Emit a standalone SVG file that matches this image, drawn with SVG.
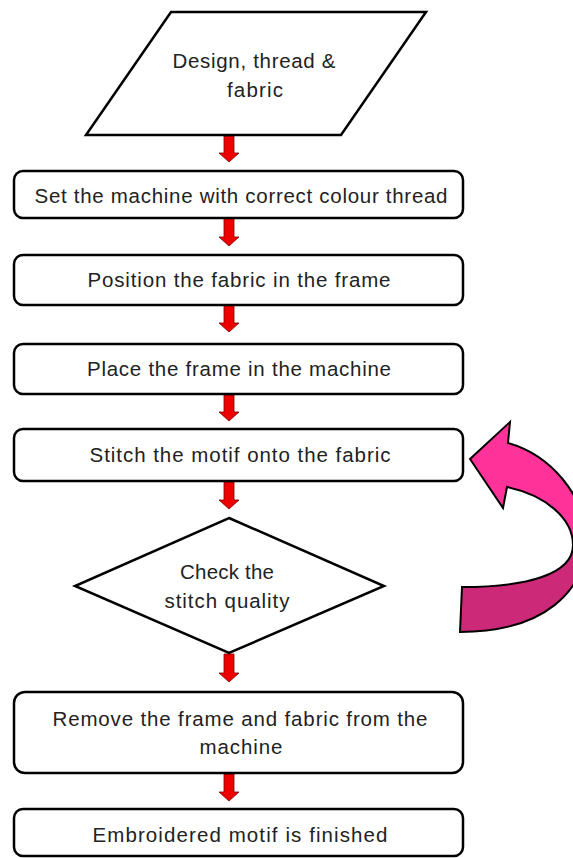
<svg xmlns="http://www.w3.org/2000/svg" width="573" height="858" viewBox="0 0 573 858">
<defs>
<style>
.n{fill:#fff;stroke:#000;stroke-width:2.5}
.t{font-family:"Liberation Sans",Arial,sans-serif;font-size:20.5px;fill:#222;text-anchor:middle}
.a{fill:#ee0000;stroke:#7a0000;stroke-width:0.8}
</style>
<linearGradient id="pk" x1="0" y1="400" x2="0" y2="640" gradientUnits="userSpaceOnUse">
<stop offset="0" stop-color="#ff3399"/>
<stop offset="0.595" stop-color="#ff3399"/>
<stop offset="0.595" stop-color="#cc2a78"/>
<stop offset="1" stop-color="#cc2a78"/>
</linearGradient>
</defs>
<rect width="573" height="858" fill="#fff"/>
<g id="connectors">
<path class="a" d="M224,136 H234 V153 H239 L229,162 L219,153 H224 Z"/>
<path class="a" d="M224,218 H234 V237 H239 L229,246 L219,237 H224 Z"/>
<path class="a" d="M224,305 H234 V323 H239 L229,332 L219,323 H224 Z"/>
<path class="a" d="M224,395 H234 V412 H239 L229,421 L219,412 H224 Z"/>
<path class="a" d="M224,482 H234 V500 H239 L229,509 L219,500 H224 Z"/>
<path class="a" d="M224,654 H234 V673 H239 L229,682 L219,673 H224 Z"/>
<path class="a" d="M224,774 H234 V792 H239 L229,801 L219,792 H224 Z"/>
<path id="loop" d="M470,459 L510,422 L508,443 C550,455 586,495 586,541 C586,590 545,632 460,632 L462,587 C525,587 573,575 573,545 C573,518 545,495 507,487 L503,508 Z" fill="url(#pk)" stroke="#000" stroke-width="2"/>
</g>
<g id="input">
<polygon class="n" points="171,12 426,12 341,135 86,135"/>
<text class="t" x="254" y="68" textLength="163" lengthAdjust="spacing">Design, thread &amp;</text>
<text class="t" x="255" y="97" textLength="56" lengthAdjust="spacing">fabric</text>
</g>
<g id="step1">
<rect class="n" x="14" y="171" width="449" height="47" rx="9"/>
<text class="t" x="241" y="203" textLength="413" lengthAdjust="spacing">Set the machine with correct colour thread</text>
</g>
<g id="step2">
<rect class="n" x="14" y="255" width="449" height="50" rx="9"/>
<text class="t" x="239" y="287" textLength="303" lengthAdjust="spacing">Position the fabric in the frame</text>
</g>
<g id="step3">
<rect class="n" x="14" y="344" width="449" height="50" rx="9"/>
<text class="t" x="239" y="376" textLength="304" lengthAdjust="spacing">Place the frame in the machine</text>
</g>
<g id="step4">
<rect class="n" x="14" y="429" width="449" height="52" rx="9"/>
<text class="t" x="240" y="462" textLength="301" lengthAdjust="spacing">Stitch the motif onto the fabric</text>
</g>
<g id="check">
<polygon class="n" points="229,518 384,586 229,653 75,586"/>
<text class="t" x="227" y="579" textLength="94" lengthAdjust="spacing">Check the</text>
<text class="t" x="227" y="608" textLength="125" lengthAdjust="spacing">stitch quality</text>
</g>
<g id="step5">
<rect class="n" x="14" y="692" width="449" height="81" rx="11"/>
<text class="t" x="240" y="726" textLength="375" lengthAdjust="spacing">Remove the frame and fabric from the</text>
<text class="t" x="241" y="754" textLength="83" lengthAdjust="spacing">machine</text>
</g>
<g id="finish">
<rect class="n" x="14" y="809" width="449" height="47" rx="9"/>
<text class="t" x="240" y="842" textLength="295" lengthAdjust="spacing">Embroidered motif is finished</text>
</g>
</svg>
